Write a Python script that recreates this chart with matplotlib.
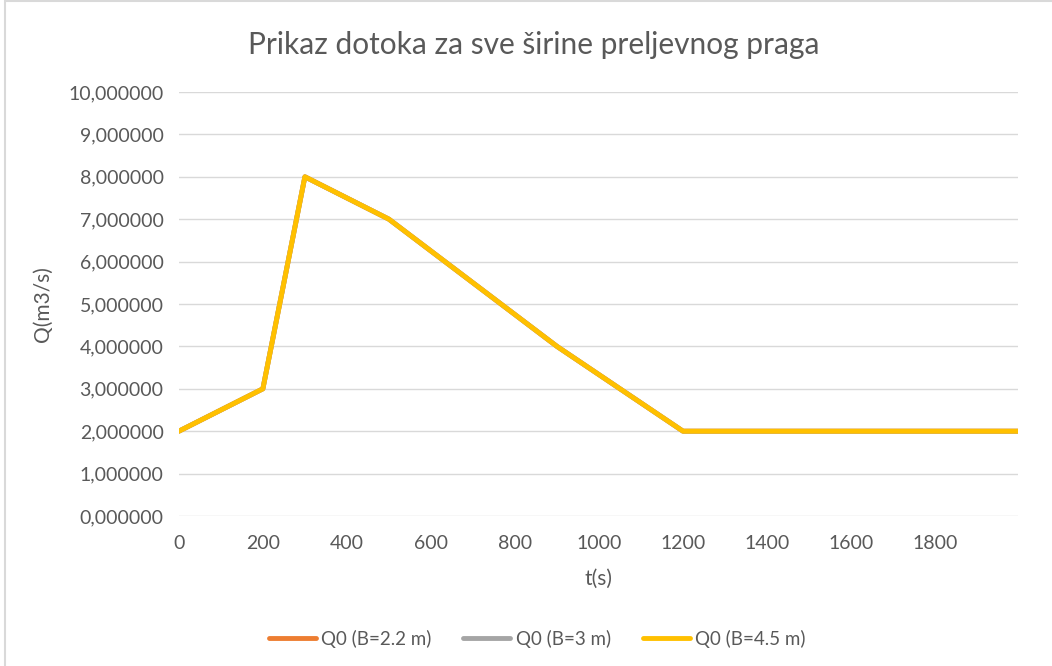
import numpy as np
import matplotlib
matplotlib.use("Agg")
import matplotlib.pyplot as plt
from matplotlib.ticker import FuncFormatter, MultipleLocator
from matplotlib.patches import Rectangle

plt.rcParams['font.family'] = ['Lato', 'DejaVu Sans']

# inflow hydrograph (same for all three weir widths)
t = [0, 200, 300, 500, 900, 1200, 1998]
q_b22 = [2, 3, 8, 7, 4, 2, 2]
q_b3 = [2, 3, 8, 7, 4, 2, 2]
q_b45 = [2, 3, 8, 7, 4, 2, 2]
labels = ["Q0 (B=2.2 m)", "Q0 (B=3 m)", "Q0 (B=4.5 m)"]

txt = "#595959"

fig = plt.figure(figsize=(10.52, 6.66), dpi=100)
ax = fig.add_axes([0.170, 0.2252, 0.798, 0.6367])

ax.plot(t, q_b22, color="#ED7D31", lw=3.5, label=labels[0], solid_capstyle="round")
ax.plot(t, q_b3, color="#A5A5A5", lw=3.5, label=labels[1], solid_capstyle="round")
ax.plot(t, q_b45, color="#FFC000", lw=3.5, label=labels[2], solid_capstyle="round")

ax.set_xlim(0, 1998)
ax.set_ylim(0, 10)
ax.xaxis.set_major_locator(MultipleLocator(200))
ax.yaxis.set_major_locator(MultipleLocator(1))
ax.yaxis.set_major_formatter(FuncFormatter(lambda v, p: f"{v:.6f}".replace(".", ",")))
ax.xaxis.set_major_formatter(FuncFormatter(lambda v, p: f"{v:.0f}"))

ax.grid(axis="y", color="#D9D9D9", lw=1)
ax.set_axisbelow(True)
for s in ax.spines.values():
    s.set_visible(False)
ax.tick_params(axis="y", length=0, labelsize=14, colors=txt, pad=11)
ax.tick_params(axis="x", length=0, labelsize=14, colors=txt, pad=14)

ax.set_xlabel("t(s)", fontsize=15, color=txt, labelpad=12)
ax.set_ylabel("Q(m3/s)", fontsize=15, color=txt, labelpad=11)
fig.text(0.507, 0.932, "Prikaz dotoka za sve širine preljevnog praga",
         ha="center", va="center", fontsize=21.5, color=txt)

ax.legend(loc="center", bbox_to_anchor=(0.427, -0.29), ncol=3, frameon=False,
          fontsize=13.5, labelcolor=txt, handlelength=2.5, columnspacing=1.7,
          handletextpad=0.3)

# chart border (left/top edges visible)
fig.patches.append(Rectangle((0.005, -0.05), 1.2, 1.048, transform=fig.transFigure,
                             fill=False, edgecolor="#D9D9D9", lw=1.5))

fig.savefig("out.png", dpi=100)
